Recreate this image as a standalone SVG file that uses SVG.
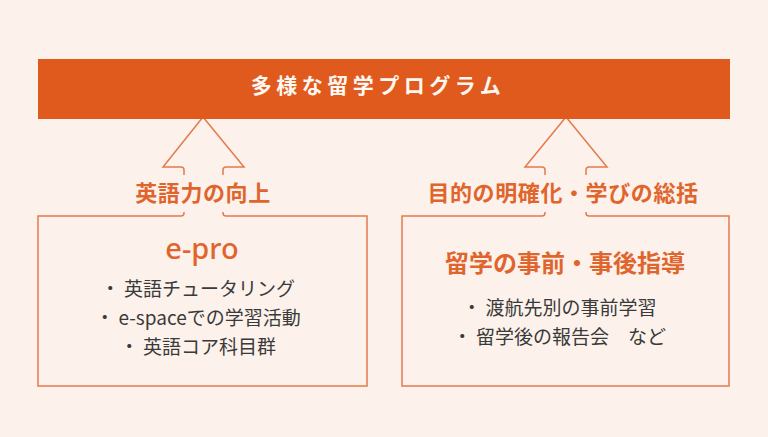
<svg xmlns="http://www.w3.org/2000/svg" width="768" height="437" viewBox="0 0 768 437">
<style>
.cjk{font-family:"Noto Sans CJK JP","Noto Sans",sans-serif}
.lbl{font-size:22px;font-weight:700;fill:#E0652C;text-anchor:middle;letter-spacing:0.6px}
.ttl{font-size:24px;font-weight:700;fill:#E0652C;text-anchor:middle}
.item{font-size:19px;fill:#3a3a3a;text-anchor:middle}
.ln{fill:none;stroke:#E47B4C;stroke-width:1.5;stroke-linejoin:miter}
</style>
<rect x="0" y="0" width="768" height="437" fill="#FCF1EB"/>
<g id="connectors">
<path class="ln" d="M184,175 V170 Q184,167 181,167 H163 L203,117 L244,167 H226 Q223,167 223,170 V175"/>
<path class="ln" d="M545,175 V170 Q545,167 542,167 H525 L566,117 L607,167 H589 Q586,167 586,170 V175"/>
</g>
<g id="top-bar">
<rect x="38" y="59" width="692" height="60" fill="#E05A1E"/>
<text class="cjk" x="378" y="93" font-size="21" font-weight="700" fill="#FFF8F2" text-anchor="middle" letter-spacing="4.5">多様な留学プログラム</text>
</g>
<g id="label-left">
<text class="cjk lbl" x="203" y="201">英語力の向上</text>
</g>
<g id="label-right">
<text class="cjk lbl" x="563" y="201">目的の明確化・学びの総括</text>
</g>
<g id="box-left">
<path class="ln" d="M184,212 V213 Q184,216 181,216 H38 V386 H367 V216 H226 Q223,216 223,213 V212"/>
<text x="202" y="259" font-family="'Noto Sans',sans-serif" font-size="29" font-weight="500" fill="#E0652C" text-anchor="middle">e-pro</text>
<text class="cjk item" x="198" y="296">・ 英語チュータリング</text>
<text class="cjk item" x="198" y="325">・ e-spaceでの学習活動</text>
<text class="cjk item" x="198" y="354">・ 英語コア科目群</text>
</g>
<g id="box-right">
<path class="ln" d="M545,212 V213 Q545,216 542,216 H402 V386 H729 V216 H589 Q586,216 586,213 V212"/>
<text class="cjk ttl" x="565" y="272">留学の事前・事後指導</text>
<text class="cjk item" x="559.5" y="315">・ 渡航先別の事前学習</text>
<text class="cjk item" x="559.5" y="344">・ 留学後の報告会　など</text>
</g>
</svg>
